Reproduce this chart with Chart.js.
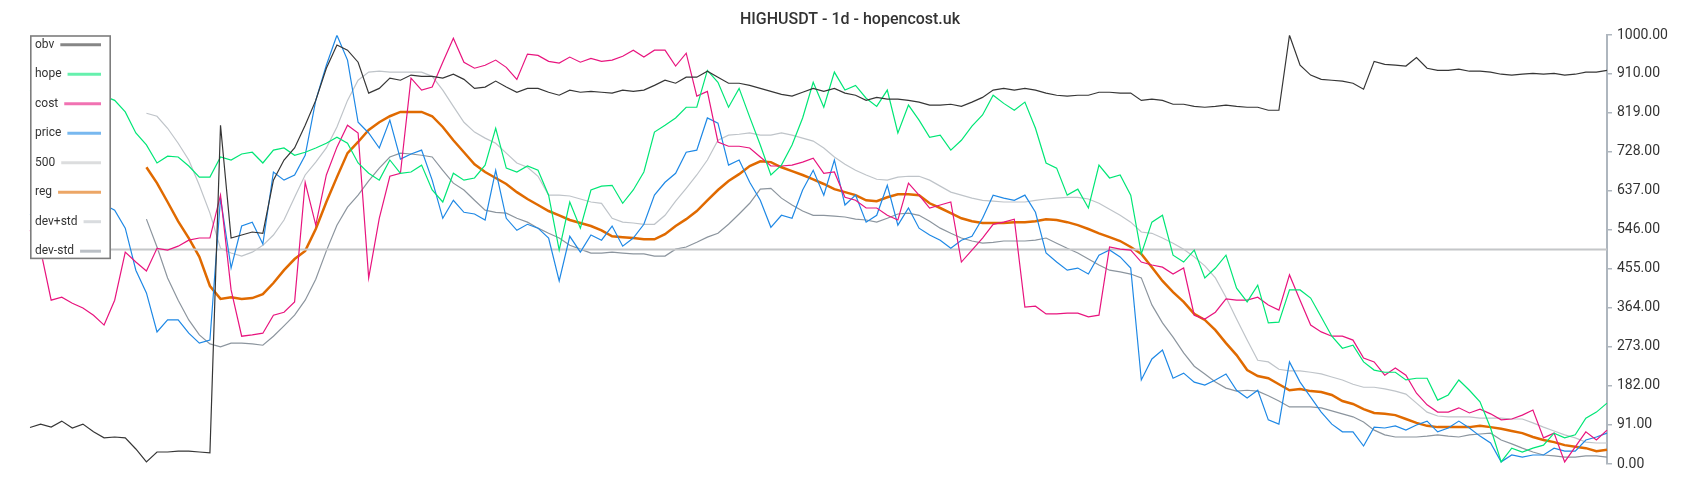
<!DOCTYPE html>
<html>
<head>
<meta charset="utf-8">
<title>HIGHUSDT - 1d - hopencost.uk</title>
<script src="https://cdn.jsdelivr.net/npm/chart.js@4.4.1/dist/chart.umd.min.js"></script>
<style>
  html, body { margin: 0; padding: 0; background: #fff; }
</style>
</head>
<body>
<canvas id="myChart" width="1700" height="500"></canvas>
<script>
// daily candles, values already scaled 0..1000
const days = Array.from({ length: 150 }, (_, i) => i + 1)
const yTicks = [0, 91, 182, 273, 364, 455, 546, 637, 728, 819, 910, 1000]
const level = 500

const obv = [
  85, 93, 86, 100, 84, 93, 75, 61, 63, 61,
  35, 5, 28, 28, 30, 30, 28, 26, 790, 527,
  534, 541, 538, 662, 709, 737, 790, 848, 923, 977,
  965, 937, 865, 876, 900, 895, 907, 904, 904, 900,
  909, 897, 876, 879, 893, 879, 867, 876, 876, 867,
  860, 872, 867, 869, 867, 865, 872, 869, 872, 883,
  895, 888, 902, 902, 916, 902, 888, 888, 883, 876,
  869, 862, 858, 867, 876, 869, 876, 865, 860, 848,
  855, 851, 851, 848, 844, 837, 837, 839, 834, 844,
  855, 872, 876, 872, 876, 872, 865, 860, 858, 860,
  860, 867, 867, 865, 865, 848, 851, 848, 839, 839,
  834, 832, 834, 837, 834, 832, 832, 825, 825, 1000,
  930, 907, 897, 895, 893, 888, 874, 939, 932, 930,
  928, 948, 923, 918, 918, 921, 916, 916, 914, 909,
  907, 909, 911, 909, 911, 907, 909, 914, 914, 918
]

const hope = [
  870, 880, 862, 875, 866, 880, 870, 858, 848, 821,
  772, 744, 702, 718, 716, 695, 669, 669, 716, 709,
  723, 727, 702, 732, 737, 720, 727, 737, 748, 762,
  748, 702, 678, 662, 709, 678, 681, 697, 639, 611,
  678, 662, 667, 697, 783, 690, 681, 695, 685, 627,
  499, 611, 550, 639, 648, 650, 608, 639, 681, 774,
  790, 807, 832, 832, 918, 890, 832, 876, 809, 744,
  674, 697, 744, 807, 890, 832, 914, 872, 883, 853,
  834, 872, 772, 837, 802, 762, 767, 732, 755, 788,
  814, 860, 841, 825, 844, 783, 702, 690, 627, 641,
  597, 697, 667, 674, 627, 490, 564, 580, 487, 471,
  499, 434, 457, 487, 410, 378, 417, 329, 331, 406,
  406, 387, 343, 298, 270, 277, 238, 219, 214, 214,
  196, 200, 200, 149, 161, 196, 172, 145, 84, 5,
  37, 28, 37, 44, 72, 61, 68, 107, 121, 142
]

const cost = [
  545, 499, 382, 389, 375, 364, 347, 324, 382, 494,
  471, 450, 503, 499, 508, 522, 527, 527, 627, 406,
  298, 301, 305, 347, 354, 378, 657, 557, 674, 739,
  790, 772, 434, 573, 671, 678, 900, 872, 879, 937,
  993, 937, 923, 930, 942, 925, 897, 956, 953, 939,
  935, 949, 937, 946, 939, 942, 951, 965, 949, 965,
  965, 928, 958, 858, 869, 751, 741, 741, 737, 716,
  695, 695, 697, 704, 713, 678, 681, 622, 615, 597,
  597, 580, 569, 655, 627, 597, 604, 611, 471, 499,
  527, 559, 564, 571, 366, 368, 350, 350, 352, 352,
  343, 347, 506, 501, 499, 471, 464, 459, 443, 457,
  347, 338, 354, 385, 382, 382, 389, 371, 359, 441,
  382, 324, 308, 298, 298, 289, 247, 238, 207, 224,
  207, 165, 138, 121, 121, 131, 119, 128, 117, 103,
  105, 114, 126, 61, 72, 5, 40, 75, 56, 79
]

const price = [
  580, 600, 585, 620, 605, 590, 610, 605, 592, 550,
  452, 399, 308, 336, 336, 305, 282, 289, 620, 457,
  555, 564, 513, 681, 662, 674, 720, 848, 930, 1000,
  942, 797, 772, 737, 802, 711, 723, 732, 662, 573,
  615, 587, 583, 569, 685, 573, 545, 559, 550, 527,
  427, 531, 494, 534, 522, 555, 508, 527, 559, 627,
  657, 678, 727, 732, 807, 795, 697, 709, 657, 615,
  552, 580, 573, 639, 685, 627, 709, 604, 627, 564,
  580, 650, 557, 597, 550, 534, 522, 503, 522, 531,
  573, 627, 620, 615, 627, 587, 492, 471, 452, 457,
  443, 487, 499, 483, 457, 196, 245, 266, 200, 212,
  191, 184, 196, 210, 172, 154, 172, 103, 93, 238,
  191, 156, 121, 93, 75, 75, 42, 86, 84, 89,
  79, 91, 100, 75, 84, 100, 84, 65, 49, 5,
  21, 16, 21, 21, 37, 30, 30, 56, 63, 72
]

const reg = [
  null, null, null, null, null, null, null, null, null, null,
  null, 692, 655, 611, 566, 527, 483, 415, 385, 389,
  385, 387, 396, 422, 452, 478, 497, 548, 611, 669,
  725, 751, 779, 797, 811, 821, 821, 821, 811, 786,
  755, 727, 699, 681, 667, 653, 634, 618, 604, 590,
  580, 569, 562, 555, 545, 531, 529, 527, 524, 524,
  536, 555, 571, 590, 615, 639, 660, 676, 695, 706,
  704, 692, 683, 674, 664, 653, 641, 634, 627, 615,
  613, 622, 629, 629, 627, 608, 597, 585, 573, 566,
  562, 562, 562, 564, 564, 566, 571, 569, 564, 557,
  548, 538, 529, 520, 506, 490, 459, 427, 401, 378,
  350, 336, 312, 282, 254, 219, 205, 200, 186, 172,
  175, 170, 168, 161, 147, 140, 128, 119, 117, 114,
  105, 96, 89, 86, 86, 86, 86, 89, 86, 82,
  77, 72, 63, 56, 51, 44, 40, 37, 30, 33
]

const devPlus = [
  null, null, null, null, null, null, null, null, null, null,
  null, 818, 811, 783, 748, 709, 650, 585, 503, 492,
  485, 494, 510, 534, 569, 622, 674, 704, 737, 786,
  848, 895, 914, 916, 914, 914, 914, 914, 904, 872,
  834, 797, 774, 760, 748, 725, 702, 692, 671, 627,
  627, 625, 618, 611, 608, 573, 564, 562, 559, 559,
  580, 613, 643, 674, 709, 755, 767, 769, 772, 767,
  767, 772, 767, 760, 753, 737, 716, 699, 685, 674,
  664, 662, 669, 671, 671, 662, 648, 634, 627, 620,
  615, 613, 611, 611, 611, 615, 618, 620, 622, 622,
  618, 608, 594, 580, 564, 541, 538, 527, 515, 501,
  483, 462, 434, 389, 338, 289, 242, 238, 221, 217,
  217, 214, 210, 203, 196, 186, 179, 179, 175, 170,
  163, 142, 121, 112, 110, 110, 110, 107, 107, 107,
  105, 105, 96, 86, 77, 68, 61, 51, 49, 49
]

const devMinus = [
  null, null, null, null, null, null, null, null, null, null,
  null, 571, 506, 434, 382, 336, 301, 280, 273, 282,
  282, 280, 277, 298, 322, 347, 382, 431, 497, 557,
  599, 627, 660, 690, 716, 725, 723, 720, 716, 685,
  655, 639, 615, 592, 587, 585, 573, 564, 550, 538,
  527, 510, 501, 492, 492, 494, 492, 490, 490, 485,
  485, 501, 506, 517, 529, 538, 559, 583, 608, 641,
  643, 620, 604, 590, 580, 580, 578, 576, 571, 569,
  564, 573, 583, 585, 580, 566, 550, 538, 527, 520,
  515, 517, 520, 520, 520, 522, 527, 515, 503, 492,
  478, 464, 452, 448, 443, 434, 371, 329, 296, 259,
  228, 210, 191, 177, 170, 172, 170, 159, 147, 133,
  133, 133, 131, 124, 117, 110, 98, 79, 68, 63,
  63, 63, 65, 68, 65, 63, 68, 70, 72, 56,
  47, 37, 28, 21, 19, 16, 16, 19, 19, 16
]

const levelData = days.map(() => level)

// boxed legend drawn inside the plot, top-left corner
const boxLegend = {
  id: 'boxLegend',
  afterDraw(chart) {
    const ctx = chart.ctx
    const left = chart.chartArea.left
    const top = chart.chartArea.top
    const w = 81, h = 224
    ctx.save()
    ctx.fillStyle = '#ffffff'
    ctx.fillRect(left, top, w, h)
    ctx.strokeStyle = '#7d7d7d'
    ctx.lineWidth = 1.6
    ctx.strokeRect(left + 0.8, top + 0.8, w - 1.6, h - 1.6)
    ctx.font = '12px Roboto'
    ctx.textBaseline = 'middle'
    chart.data.datasets.forEach((ds, k) => {
      const y = top + 9.5 + k * 29.5
      ctx.globalAlpha = 1
      ctx.fillStyle = '#333333'
      ctx.fillText(ds.label, left + 5, y)
      const x0 = left + 5 + ctx.measureText(ds.label).width + 6
      ctx.globalAlpha = 0.6
      ctx.strokeStyle = ds.borderColor
      ctx.lineWidth = 3
      ctx.beginPath()
      ctx.moveTo(x0, y)
      ctx.lineTo(left + w - 10, y)
      ctx.stroke()
    })
    ctx.restore()
  }
}

Chart.defaults.font.family = "Roboto, 'Noto Sans', sans-serif"

const myData = [{
  label: 'obv', data: obv, borderColor: '#363636', borderWidth: 1.2
}, {
  label: 'hope', data: hope, borderColor: '#00e676', borderWidth: 1.2
}, {
  label: 'cost', data: cost, borderColor: '#e8147e', borderWidth: 1.2
}, {
  label: 'price', data: price, borderColor: '#1e88e5', borderWidth: 1.2
}, {
  label: '500', data: levelData, borderColor: '#c4c6c8', borderWidth: 2
}, {
  label: 'reg', data: reg, borderColor: '#e06a00', borderWidth: 2.5
}, {
  label: 'dev+std', data: devPlus, borderColor: '#bfc4c9', borderWidth: 1.2
}, {
  label: 'dev-std', data: devMinus, borderColor: '#8c959e', borderWidth: 1.2
}]

const ctx = document.getElementById('myChart').getContext('2d')
const myChart = new Chart(ctx, {
  type: 'line',
  data: {
    labels: days,
    datasets: myData
  },
  options: {
    responsive: false,
    animation: false,
    layout: { padding: { left: 30, right: 30, top: 0, bottom: 36 } },
    elements: {
      point: { radius: 0 },
      line: { tension: 0, fill: false }
    },
    plugins: {
      legend: { display: false },
      tooltip: { enabled: false },
      title: {
        display: true,
        text: 'HIGHUSDT - 1d - hopencost.uk',
        color: '#333333',
        font: { size: 16, weight: '500' },
        padding: { top: 10, bottom: 6 }
      }
    },
    scales: {
      x: { display: false },
      y: {
        position: 'right',
        min: 0,
        max: 1000,
        afterBuildTicks: s => { s.ticks = yTicks.map(v => ({ value: v })) },
        afterFit: s => { s.width = 63 },
        ticks: {
          color: '#333333',
          font: { size: 14 },
          padding: 5,
          callback: v => Number(v).toFixed(2)
        },
        grid: { drawOnChartArea: false, tickLength: 5, color: '#aeb6be', lineWidth: 1.5 },
        border: { color: '#aeb6be', width: 2 }
      }
    }
  },
  plugins: [boxLegend]
})
</script>
</body>
</html>
